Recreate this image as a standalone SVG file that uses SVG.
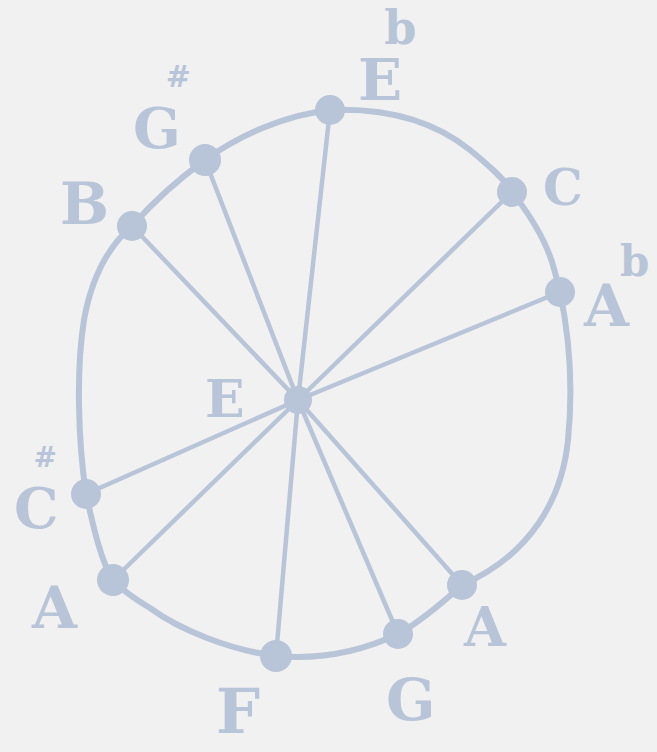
<svg xmlns="http://www.w3.org/2000/svg" width="657" height="752" viewBox="0 0 657 752">
<style>
.ln{fill:none;stroke:#b8c4d7;stroke-linecap:round;stroke-linejoin:round}
.rim{stroke-width:6}
.sp{stroke-width:4.5}
.dot{fill:#b8c4d7}
.lb{font-family:"DejaVu Serif","Liberation Serif",serif;font-weight:bold;fill:#b8c4d7}
</style>
<rect width="657" height="752" fill="#f1f1f1"/>
<g id="connectors">
<path class="ln rim" d="M330,110 C380,108 430,118 470,150 C492,168 505,180 512,192 C530,215 545,240 552,262 C556,275 558,284 560,292 C568,330 574,380 568,440 C562,500 530,555 462,585 C440,605 420,622 398,634 C360,652 320,660 276,656 C230,650 180,630 150,608 C130,596 120,588 113,580 C100,560 92,520 86,494 C78,440 76,370 84,320 C92,275 110,245 132,226 C155,200 180,178 205,160 C240,135 285,115 330,110 Z"/>
<g class="ln sp">
<line x1="298" y1="400" x2="330" y2="110"/>
<line x1="298" y1="400" x2="205" y2="160"/>
<line x1="298" y1="400" x2="132" y2="226"/>
<line x1="298" y1="400" x2="512" y2="192"/>
<line x1="298" y1="400" x2="560" y2="292"/>
<line x1="298" y1="400" x2="86" y2="494"/>
<line x1="298" y1="400" x2="113" y2="580"/>
<line x1="298" y1="400" x2="276" y2="656"/>
<line x1="298" y1="400" x2="398" y2="634"/>
<line x1="298" y1="400" x2="462" y2="585"/>
</g>
</g>
<g id="center"><circle class="dot" cx="298" cy="400" r="14"/><text class="lb" x="205" y="417" font-size="52">E</text></g>
<g id="n-eflat"><circle class="dot" cx="330" cy="110" r="15"/><text class="lb" x="358" y="100" font-size="58">E<tspan font-size="46" dx="-18" dy="-56">b</tspan></text></g>
<g id="n-gsharp"><circle class="dot" cx="205" cy="160" r="16"/><text class="lb" x="133" y="148" font-size="56">G<tspan font-size="30" dx="-15" dy="-61">#</tspan></text></g>
<g id="n-b"><circle class="dot" cx="132" cy="226" r="15"/><text class="lb" x="60" y="224" font-size="58">B</text></g>
<g id="n-c"><circle class="dot" cx="512" cy="192" r="15"/><text class="lb" x="543" y="205" font-size="50">C</text></g>
<g id="n-aflat"><circle class="dot" cx="560" cy="292" r="15"/><text class="lb" x="584" y="326" font-size="58">A<tspan font-size="42" dx="-9" dy="-50">b</tspan></text></g>
<g id="n-csharp"><circle class="dot" cx="86" cy="494" r="15"/><text class="lb" x="14" y="528" font-size="56">C<tspan font-size="28" dx="-25" dy="-61">#</tspan></text></g>
<g id="n-a1"><circle class="dot" cx="113" cy="580" r="16"/><text class="lb" x="32" y="628" font-size="58">A</text></g>
<g id="n-f"><circle class="dot" cx="276" cy="656" r="16"/><text class="lb" x="216" y="733" font-size="62">F</text></g>
<g id="n-g"><circle class="dot" cx="398" cy="634" r="15"/><text class="lb" x="386" y="720" font-size="58">G</text></g>
<g id="n-a2"><circle class="dot" cx="462" cy="585" r="15"/><text class="lb" x="464" y="646" font-size="54">A</text></g>
</svg>
